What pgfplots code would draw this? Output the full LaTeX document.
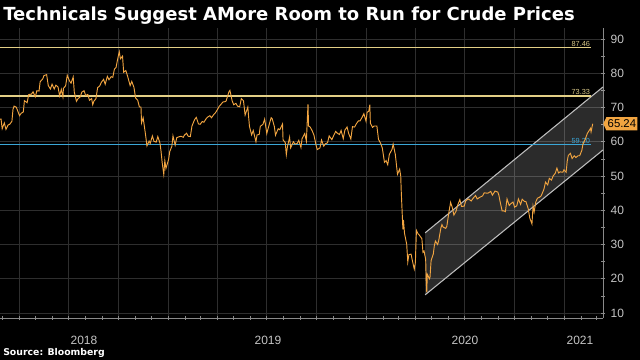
\documentclass[border=0pt]{standalone}
\usepackage{pgfplots}
\pgfplotsset{compat=1.18}
\usepackage{pgfplotstable}
\usepackage{fontspec}
\setmainfont{Liberation Sans}
\newfontfamily\titlefont{DejaVu Sans}
\usetikzlibrary{shapes.symbols}
\definecolor{gridc}{HTML}{2E2E2E}
\definecolor{axc}{HTML}{8A8A8A}
\definecolor{tickc}{HTML}{C4C4C4}
\definecolor{oil}{HTML}{F2A541}
\definecolor{gold}{HTML}{E3CF86}
\definecolor{cyanl}{HTML}{3AA7D8}
\definecolor{chanline}{HTML}{BDBDBD}

\pgfplotstableread{
d p
55 66.6
57 66.6
59 63.8
63 65.5
66 63.6
70 64.9
73 65.1
77 66.0
79 69.5
81 70.4
85 70.1
91 67.6
94 68.3
98 68.7
100 72.0
105 71.4
108 73.8
113 73.9
116 74.6
120 73.1
123 74.9
127 74.8
129 77.5
134 78.4
136 79.3
141 79.6
144 76.4
148 75.4
151 76.8
155 75.4
158 76.5
162 76.0
165 73.4
168 75.3
171 73.1
172 75.6
176 76.3
179 79.4
183 77.8
186 77.1
190 78.9
192 74.5
196 71.8
199 72.6
203 73.1
206 74.5
210 74.9
213 73.5
217 73.8
220 72.1
224 72.6
226 70.8
228 71.8
232 72.6
235 75.8
239 76.3
242 77.4
246 78.2
249 76.8
253 79.1
256 78.1
260 79.0
263 78.8
266 81.2
269 81.7
273 84.9
275 86.3
277 84.2
281 85.0
283 80.3
287 80.8
290 79.3
295 76.4
298 77.6
302 75.9
305 72.8
309 72.1
312 70.2
315 70.1
316 65.5
319 67.0
323 62.5
326 58.8
330 60.2
332 59.5
336 61.7
339 60.1
343 59.9
346 61.5
350 59.6
352 57.2
354 54.0
357 50.5
359 54.5
361 52.2
364 53.8
366 54.9
368 57.1
372 58.7
374 61.7
378 59.0
381 61.2
386 61.5
389 61.6
393 61.3
395 61.9
399 62.5
402 61.6
406 61.5
409 64.6
414 66.5
417 67.1
421 65.2
424 65.1
428 65.9
431 65.7
435 66.7
438 67.2
442 67.6
445 67.0
449 67.9
452 68.4
456 69.4
459 70.3
463 71.0
466 71.6
470 71.7
472 71.9
477 74.5
479 75.0
483 72.0
486 70.8
490 71.2
493 70.4
497 70.2
500 72.6
504 72.0
507 67.8
512 70.1
515 64.5
519 62.0
522 63.3
527 60.0
529 62.0
533 62.1
535 64.5
540 65.1
543 66.6
547 62.4
550 64.2
555 67.0
557 66.7
561 64.4
563 61.9
568 63.8
571 63.5
576 65.2
577 60.5
581 59.8
583 56.2
585 58.5
589 61.3
591 58.2
596 60.0
599 59.3
603 59.5
606 60.4
610 58.3
612 60.9
617 62.4
620 60.2
623 71.0
624 64.6
627 64.3
631 63.1
634 61.9
638 58.9
640 57.7
645 58.2
648 60.5
652 58.7
655 59.4
659 59.7
662 61.7
667 60.6
670 61.7
674 63.0
677 62.5
681 62.1
684 63.3
688 60.9
691 63.4
695 64.3
698 62.4
702 60.8
705 64.4
709 64.3
712 65.2
716 66.1
719 66.1
723 67.2
726 68.2
730 66.0
732 68.6
735 68.9
737 70.8
738 65.4
742 64.2
745 64.6
750 64.6
753 60.7
757 59.5
760 58.2
764 54.0
767 54.5
770 53.3
773 56.3
778 57.8
780 59.3
784 56.3
786 53.4
788 50.5
792 52.0
794 50.0
795 45.3
798 34.4
799 37.2
801 33.2
805 30.1
807 24.9
809 27.0
813 27.2
816 24.9
819 22.8
821 24.7
822 29.9
823 34.1
826 33.1
828 32.8
833 31.7
835 27.7
837 28.1
840 25.6
841 19.3
842 16.0
843 21.3
847 20.0
848 20.5
850 25.3
854 27.2
856 29.7
858 31.0
862 30.0
864 31.1
868 34.8
870 35.8
872 35.1
877 34.7
879 35.3
883 39.6
886 42.3
889 40.8
892 38.6
896 39.7
899 41.5
903 43.1
906 41.1
911 41.2
914 42.8
919 43.3
924 42.7
927 43.4
932 44.3
935 43.3
940 43.8
945 44.2
948 45.1
952 45.0
955 45.0
960 45.5
963 44.4
968 45.6
973 45.3
975 44.4
977 42.7
981 39.8
984 39.8
987 39.6
990 43.3
994 41.4
997 41.9
1001 42.4
1004 40.9
1008 41.3
1011 43.3
1015 41.7
1018 43.2
1022 42.6
1025 42.5
1029 40.5
1032 37.7
1036 36.0
1038 41.2
1040 39.5
1043 42.4
1046 43.5
1050 43.8
1053 44.2
1058 46.1
1061 48.2
1065 47.4
1068 49.3
1072 48.8
1075 50.0
1079 50.8
1082 52.3
1085 50.9
1088 51.2
1093 51.1
1095 51.8
1099 51.1
1101 54.3
1103 56.0
1107 56.6
1110 55.1
1114 55.9
1117 55.4
1121 55.9
1124 55.9
1128 57.5
1130 59.3
1134 60.6
1136 61.5
1138 62.4
1142 63.4
1144 63.9
1145 62.9
1148 65.24
}\brent

\begin{document}
\begin{tikzpicture}[x=1pt,y=1pt]
\fill[black] (0,0) rectangle (480,270);
\node[anchor=base west, text=white, font=\titlefont\bfseries\fontsize{13.5}{13.5}\selectfont, inner sep=0] at (2.25,254.25) {Technicals Suggest AMore Room to Run for Crude Prices};
\node[anchor=base west, text=white, font=\titlefont\bfseries\fontsize{7}{7}\selectfont, inner sep=0] at (2.25,3.5) {Source: Bloomberg};
\begin{axis}[
  at={(0pt,31.5pt)}, anchor=south west,
  width=452.25pt, height=217.5pt, scale only axis,
  xmin=55, xmax=1167, ymin=8.54, ymax=93.21,
  axis x line*=bottom, axis y line*=right,
  axis line style={axc, line width=0.6pt},
  xtick={90,181,273,365,455,546,638,730,821,912,1004,1096},
  xticklabels={},
  minor xtick={59,120,151,212,243,304,334,396,424,485,516,577,608,669,699,761,790,851,882,943,974,1035,1065,1127,1155},
  ytick={10,20,...,90},
  minor ytick={15,25,...,85},
  xmajorgrids, ymajorgrids,
  major grid style={gridc, line width=0.6pt},
  tick style={axc, line width=0.5pt},
  tick align=center,
  major tick length=3.5pt, minor tick length=3pt,
  yticklabel style={text=tickc, font=\fontsize{9}{9}\selectfont, xshift=0.5pt},
  /pgf/number format/assume math mode=true,
  clip=false,
]
% channel
\addplot[fill=white, fill opacity=0.17, draw=none] coordinates {(839,15.3) (1167,57.6) (1167,76.0) (839,33.4)} -- cycle;
\addplot[chanline, line width=0.8pt] coordinates {(839,15.3) (1167,57.6)};
\addplot[chanline, line width=0.8pt] coordinates {(839,33.4) (1167,76.0)};
% levels
\addplot[gold, line width=0.9pt] coordinates {(55,87.46) (1145,87.46)};
\addplot[gold, line width=0.9pt] coordinates {(55,73.33) (1145,73.33)};
\addplot[cyanl, line width=0.9pt] coordinates {(55,59.20) (1145,59.20)};
\node[anchor=south east, text=gold!85!gray, font=\fontsize{5.5}{5.5}\selectfont, inner sep=0.6pt] at (axis cs:1145,87.46) {87.46};
\node[anchor=south east, text=gold!85!gray, font=\fontsize{5.5}{5.5}\selectfont, inner sep=0.6pt] at (axis cs:1145,73.33) {73.33};
\node[anchor=south east, text=cyanl, font=\fontsize{5.5}{5.5}\selectfont, inner sep=0.6pt] at (axis cs:1145,59.20) {59.20};
% price
\addplot[oil, line width=0.7pt] table[x=d, y=p] {\brent};
\node[signal, signal to=west, signal pointer angle=130, fill=oil, text=black, font=\fontsize{8.5}{8.5}\selectfont, inner xsep=1pt, inner ysep=2pt, anchor=west] at (axis cs:1167,65.24) {65.24};
% year separators
\draw[axc, line width=0.5pt] (axis cs:365,8.54) ++(0,-9) -- ++(0,-11);
\draw[axc, line width=0.5pt] (axis cs:730,8.54) ++(0,-9) -- ++(0,-11);
\draw[axc, line width=0.5pt] (axis cs:1096,8.54) ++(0,-9) -- ++(0,-11);
\end{axis}
\foreach \xx/\lab in {63/2018, 201/2019, 348.75/2020, 435/2021} {
  \node[anchor=base, text=tickc, font=\fontsize{9}{9}\selectfont, inner sep=0] at (\xx,11.25) {\lab};
}
\pgfresetboundingbox
\path (0,0) rectangle (480,270);
\end{tikzpicture}
\end{document}
